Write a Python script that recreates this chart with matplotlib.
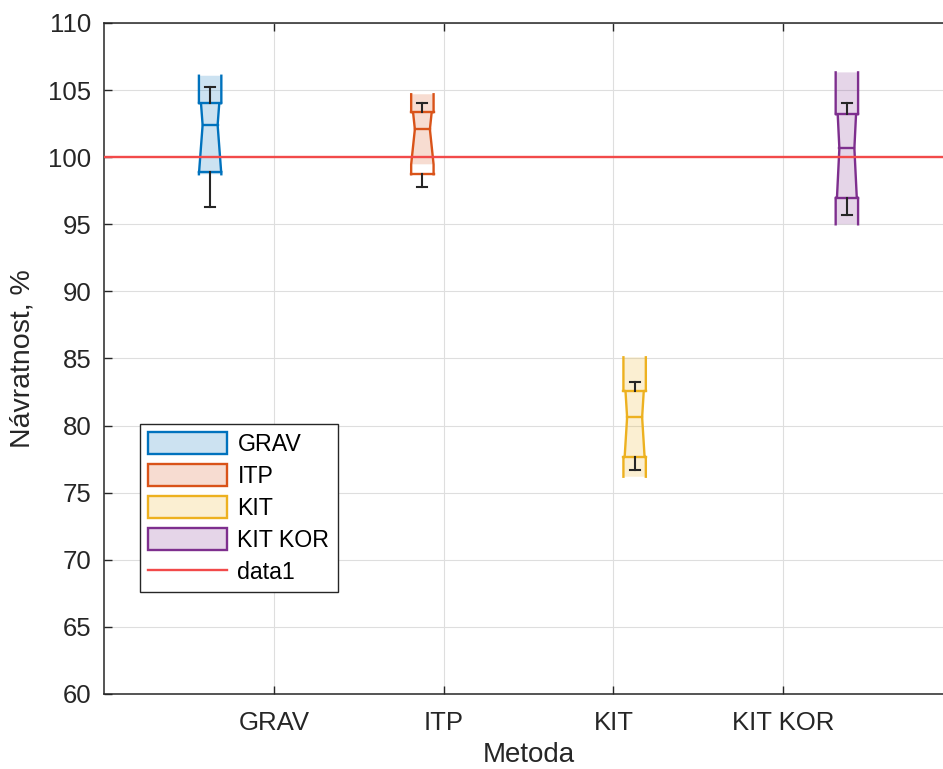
import matplotlib
matplotlib.use('Agg')
import matplotlib.pyplot as plt
from matplotlib.patches import Patch, Polygon
from matplotlib.lines import Line2D

plt.rcParams['font.family'] = ['Liberation Sans', 'DejaVu Sans']

# box statistics per method (recovery, %)
methods = ['GRAV', 'ITP', 'KIT', 'KIT KOR']
q1 = [98.92, 98.73, 77.66, 96.98]
median = [102.40, 102.08, 80.62, 100.66]
q3 = [104.02, 103.35, 82.58, 103.20]
notch_lo = [98.73, 99.47, 76.19, 95.00]
notch_hi = [106.07, 104.69, 85.09, 106.32]
whisk_lo = [96.31, 97.76, 76.69, 95.69]
whisk_hi = [105.25, 104.02, 83.27, 104.06]
reference = 100

colors = ['#0072BD', '#D95319', '#EDB120', '#7E2F8E']
txt = '#262626'

fig = plt.figure(figsize=(9.43, 7.69), dpi=100)
ax = fig.add_axes([104/943, 75/769, 849/943, 671/769])

hf = 0.066          # half box width
hn = 0.67 * hf      # half width at the notch


def profile(lo, hi, a, m, b, nh):
    # right-side outline of a notched box between lo and hi
    def h(y):
        if a <= y <= b:
            return hn + (hf - hn) * min(1.0, abs(y - m) / nh)
        return hf
    ys = sorted({lo, hi, a, b, m, m - nh, m + nh})
    ys = [y for y in ys if lo <= y <= hi]
    pts = []
    for y in ys:
        if y == a and y > lo:
            pts.append((hf, y))
        pts.append((h(y), y))
        if y == b and y < hi:
            pts.append((hf, y))
    return pts


for i, name in enumerate(methods):
    c = i + 1 + (i - 1.5) * 0.25
    col = colors[i]
    nh = (notch_hi[i] - notch_lo[i]) / 2

    # fill over the notch span
    fp = profile(notch_lo[i], notch_hi[i], q1[i], median[i], q3[i], nh)
    poly = [(c + w, y) for w, y in fp] + [(c - w, y) for w, y in fp[::-1]]
    ax.add_patch(Polygon(poly, closed=True, facecolor=col, alpha=0.2,
                         edgecolor='none', zorder=2))

    # outline
    op = profile(min(q1[i], notch_lo[i]), max(q3[i], notch_hi[i]),
                 q1[i], median[i], q3[i], nh)
    ys = [y for w, y in op]
    ax.plot([c + w for w, y in op], ys, color=col, lw=1.7, zorder=3)
    ax.plot([c - w for w, y in op], ys, color=col, lw=1.7, zorder=3)
    for y in (q1[i], q3[i]):
        ax.plot([c - hf, c + hf], [y, y], color=col, lw=1.7, zorder=3)
    ax.plot([c - hn, c + hn], [median[i]] * 2, color=col, lw=1.7, zorder=3)

    # whiskers
    ax.plot([c, c], [q3[i], whisk_hi[i]], color=txt, lw=1.5, zorder=4)
    ax.plot([c, c], [q1[i], whisk_lo[i]], color=txt, lw=1.5, zorder=4)
    for y in (whisk_lo[i], whisk_hi[i]):
        ax.plot([c - 0.03, c + 0.03], [y, y], color=txt, lw=1.5, zorder=4)

ax.axhline(reference, color='#F24A4A', lw=1.7, zorder=5)

ax.set_xlim(0, 5)
ax.set_ylim(60, 110)
ax.set_xticks(range(1, 5))
ax.set_xticklabels(methods)
ax.set_yticks(range(60, 111, 5))
ax.grid(True, color='#DEDEDE', lw=0.8, zorder=0)
ax.set_axisbelow(True)
ax.tick_params(direction='in', length=6, width=1, colors=txt, labelsize=18.5,
               top=True, right=True)
ax.tick_params(axis='y', pad=9)
ax.tick_params(axis='x', pad=12)
for s in ax.spines.values():
    s.set_color(txt)
    s.set_linewidth(1.1)

ax.set_xlabel('Metoda', fontsize=20, color=txt, labelpad=5)
ax.set_ylabel('Návratnost, %', fontsize=20.5, color=txt, va='center')
ax.yaxis.set_label_coords(-0.0955, 0.5)

handles = [Patch(facecolor=matplotlib.colors.to_rgba(col, 0.2), edgecolor=col, lw=1.7)
           for col in colors]
handles.append(Line2D([], [], color='#F24A4A', lw=1.7))
leg = ax.legend(handles, methods + ['data1'], loc='lower left',
                bbox_to_anchor=(0.0424, 0.152), borderaxespad=0, fontsize=16.7,
                handlelength=3.4, handleheight=1.05, labelspacing=0.36,
                handletextpad=0.45, borderpad=0.35, fancybox=False,
                framealpha=1, edgecolor=txt)
leg.get_frame().set_linewidth(1.0)
for t in leg.get_texts():
    t.set_color('black')

fig.savefig('out.png', dpi=100)
